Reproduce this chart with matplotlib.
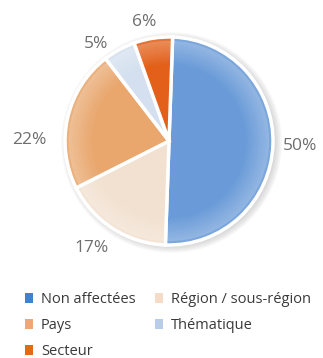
import numpy as np
import matplotlib
matplotlib.use("Agg")
import matplotlib.pyplot as plt
from matplotlib.patches import Wedge, Circle

# ─── Data ───────────────────────────────────────────────────
categories = ["Non affectées", "Région / sous-région", "Pays", "Thématique", "Secteur"]
shares     = [50, 17, 22, 5, 6]
pct_labels = ["50%", "17%", "22%", "5%", "6%"]
colors     = ["#6a9bd8", "#f2e1d0", "#e9a76e", "#d4e0ef", "#e2601a"]
legend_colors = ["#3f82d2", "#f6dcc6", "#eea878", "#b9cdea", "#e46818"]
legend_order  = ["Non affectées", "Pays", "Secteur", "Région / sous-région", "Thématique"]

# label placement (radius, angle offset in degrees)
label_dist   = [1.26, 1.27, 1.34, 1.17, 1.17]
label_offset = [0.0, -3.4, 12.4, 8.4, 3.0]

plt.rcParams["font.family"] = ["Open Sans", "DejaVu Sans"]

W, H = 323, 358
fig = plt.figure(figsize=(W / 100, H / 100), dpi=100)

# pie axes: centre at (169, 141) px from top-left, radius ~104 px
side = 312
ax = fig.add_axes([(169 - side / 2) / W, (H - 141 - side / 2) / H, side / W, side / H])

# soft drop shadow behind the pie
for k in range(6):
    ax.add_patch(Circle((0.025, -0.015), 1.0 + 0.012 * k, facecolor="#9a9a9a",
                        edgecolor="none", alpha=0.07, zorder=0))

wedges, texts = ax.pie(
    shares, colors=colors, labels=pct_labels, startangle=88, counterclock=False,
    labeldistance=1.2, wedgeprops=dict(edgecolor="white", linewidth=2.5, zorder=1),
    textprops=dict(fontsize=12.5, color="#6e6e6e"),
)

for w, t, d, off in zip(wedges, texts, label_dist, label_offset):
    mid = np.deg2rad((w.theta1 + w.theta2) / 2 + off)
    t.set_position((d * np.cos(mid), d * np.sin(mid)))
    t.set_ha("center")
    t.set_va("center")

# lighter bevelled rim
n = 14
for i in range(n):
    r = 0.74 + 0.26 * (i + 1) / n
    a = 0.32 * (i + 1) / n if r < 0.975 else 0.12
    ax.add_patch(Wedge((0, 0), r, 0, 360, width=0.26 / n, facecolor="white",
                       edgecolor="none", alpha=a, zorder=2))

ax.set_xlim(-1.5, 1.5)
ax.set_ylim(-1.5, 1.5)

handles = [plt.Rectangle((0, 0), 1, 1, facecolor=legend_colors[categories.index(c)])
           for c in legend_order]
fig.legend(handles, legend_order, ncol=2, loc="upper left",
           bbox_to_anchor=(25 / W, 1 - 292 / H), frameon=False,
           borderaxespad=0, borderpad=0,
           prop=dict(family=["Open Sans", "DejaVu Sans"], size=10.5),
           handlelength=0.55, handleheight=0.65,
           handletextpad=0.55, columnspacing=1.3, labelspacing=0.75,
           labelcolor="#3a3a3a")

fig.savefig("out.png", dpi=100)
